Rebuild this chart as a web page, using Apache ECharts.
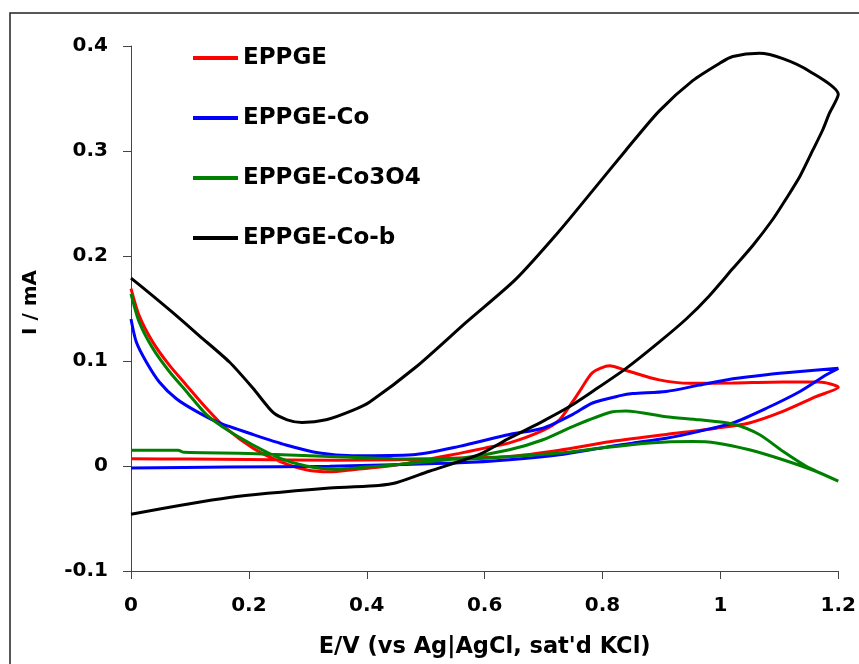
<!DOCTYPE html>
<html>
<head>
<meta charset="utf-8">
<script src="https://cdn.jsdelivr.net/npm/echarts@6/dist/echarts.min.js"></script>
<style>
html,body{margin:0;padding:0;background:#fff;}
#chart{width:859px;height:664px;}
</style>
</head>
<body>
<div id="chart"></div>
<script>
// Series names
const seriesNames = ['EPPGE', 'EPPGE-Co', 'EPPGE-Co3O4', 'EPPGE-Co-b'];
const seriesColors = ['#ff0000', '#0000ff', '#008000', '#000000'];

// Axis ticks
const xTicks = [0, 0.2, 0.4, 0.6, 0.8, 1, 1.2];
const yTicks = [-0.1, 0, 0.1, 0.2, 0.3, 0.4];

// [E (V), I (mA)] — forward scan then reverse scan
const eppge = [
  [0,0.169],[0.014,0.143],[0.037,0.118],[0.065,0.096],[0.094,0.077],[0.128,0.055],[0.161,0.036],
  [0.207,0.017],[0.252,0.0045],[0.297,-0.0035],[0.337,-0.0055],[0.376,-0.0035],[0.45,0.001],
  [0.5,0.006],[0.557,0.012],[0.6,0.017],[0.642,0.022],[0.699,0.034],[0.727,0.044],[0.749,0.061],
  [0.761,0.071],[0.783,0.089],[0.812,0.0955],[0.84,0.091],[0.896,0.082],[0.948,0.0787],
  [1.021,0.079],[1.106,0.080],[1.168,0.080],[1.2,0.075],
  [1.162,0.066],[1.106,0.052],[1.049,0.041],[0.993,0.036],[0.908,0.030],[0.812,0.023],
  [0.727,0.015],[0.642,0.009],[0.557,0.0076],[0.45,0.006],[0.35,0.0055],[0.2,0.0062],
  [0.1,0.0066],[0,0.007]
];
const eppgeCo = [
  [0,0.140],[0.009,0.118],[0.026,0.099],[0.048,0.080],[0.077,0.064],[0.111,0.052],[0.150,0.041],
  [0.207,0.030],[0.263,0.020],[0.320,0.0123],[0.376,0.0098],[0.478,0.0107],[0.557,0.0187],
  [0.642,0.030],[0.699,0.036],[0.749,0.049],[0.783,0.060],[0.83,0.067],[0.851,0.069],
  [0.908,0.071],[0.964,0.077],[1.021,0.083],[1.078,0.087],[1.135,0.090],[1.2,0.093],
  [1.179,0.0866],[1.135,0.071],[1.078,0.055],[1.021,0.041],[0.964,0.033],[0.908,0.0265],
  [0.851,0.0218],[0.795,0.017],[0.727,0.0107],[0.642,0.006],[0.557,0.003],[0.444,0.0013],
  [0.337,-0.0003],[0.167,-0.001],[0,-0.002]
];
const eppgeCo3O4 = [
  [0,0.164],[0.014,0.137],[0.037,0.112],[0.065,0.090],[0.094,0.071],[0.128,0.049],[0.167,0.033],
  [0.207,0.020],[0.252,0.0076],[0.297,0.000],[0.348,-0.003],[0.399,-0.001],[0.45,0.0013],
  [0.563,0.0076],[0.642,0.0155],[0.699,0.025],[0.755,0.039],[0.812,0.051],[0.840,0.0524],
  [0.908,0.047],[0.964,0.044],[1.021,0.040],[1.066,0.030],[1.106,0.014],[1.145,0.000],[1.2,-0.0145],
  [1.162,-0.005],[1.106,0.006],[1.049,0.0155],[0.993,0.022],[0.953,0.0234],[0.880,0.022],
  [0.795,0.017],[0.727,0.0123],[0.642,0.009],[0.557,0.0065],[0.444,0.007],[0.337,0.009],
  [0.2,0.012],[0.09,0.013],[0.08,0.015],[0,0.015]
];
const eppgeCoB = [
  [0,0.179],[0.037,0.162],[0.071,0.146],[0.116,0.124],[0.167,0.099],[0.207,0.074],[0.241,0.051],
  [0.265,0.044],[0.29,0.0415],[0.331,0.044],[0.376,0.053],[0.405,0.061],[0.484,0.0945],
  [0.569,0.137],[0.653,0.178],[0.727,0.224],[0.783,0.262],[0.840,0.301],[0.896,0.338],
  [0.953,0.367],[1.0,0.384],[1.021,0.390],[1.066,0.393],[1.106,0.388],[1.151,0.376],[1.2,0.354],
  [1.185,0.336],[1.1735,0.320],[1.157,0.301],[1.135,0.276],[1.111,0.254],[1.089,0.235],
  [1.055,0.210],[1.021,0.188],[0.981,0.162],[0.942,0.140],[0.896,0.118],[0.840,0.093],
  [0.783,0.071],[0.744,0.0566],[0.70,0.043],[0.642,0.0265],[0.591,0.011],[0.506,-0.005],
  [0.45,-0.016],[0.42,-0.0185],[0.337,-0.021],[0.167,-0.030],[0,-0.046]
];

const allData = [eppge, eppgeCo, eppgeCo3O4, eppgeCoB];

const FONT = 'DejaVu Sans';
const chart = echarts.init(document.getElementById('chart'), null, {renderer: 'canvas'});

const option = {
  backgroundColor: '#ffffff',
  animation: false,
  grid: {left: 131, top: 46, right: 20.5, bottom: 90.5, containLabel: false},
  legend: {
    orient: 'vertical',
    left: 193,
    top: 46,
    padding: 0,
    itemWidth: 45,
    itemHeight: 4,
    itemGap: 36,
    icon: 'rect',
    data: seriesNames,
    textStyle: {fontFamily: FONT, fontWeight: 'bold', fontSize: 23, color: '#000', lineHeight: 24}
  },
  xAxis: {
    type: 'value',
    min: xTicks[0],
    max: xTicks[xTicks.length - 1],
    interval: 0.2,
    name: 'E/V (vs Ag|AgCl, sat\'d KCl)',
    nameLocation: 'middle',
    nameGap: 65,
    nameTextStyle: {fontFamily: FONT, fontWeight: 'bold', fontSize: 22.5, color: '#000'},
    axisLine: {onZero: false, lineStyle: {color: '#444', width: 1}},
    axisTick: {show: true, inside: false, length: 8, lineStyle: {color: '#444'}},
    axisLabel: {
      margin: 25, fontFamily: FONT, fontWeight: 'bold', fontSize: 20, color: '#000',
      formatter: v => String(Math.round(v * 10) / 10)
    },
    splitLine: {show: false}
  },
  yAxis: {
    type: 'value',
    min: yTicks[0],
    max: yTicks[yTicks.length - 1],
    interval: 0.1,
    name: 'I / mA',
    nameLocation: 'middle',
    nameGap: 90,
    nameTextStyle: {fontFamily: FONT, fontWeight: 'bold', fontSize: 20, color: '#000', padding: [0, 0, 0, 12]},
    axisLine: {show: true, onZero: false, lineStyle: {color: '#444', width: 1}},
    axisTick: {show: true, inside: false, length: 8, lineStyle: {color: '#444'}},
    axisLabel: {
      margin: 23, fontFamily: FONT, fontWeight: 'bold', fontSize: 20, color: '#000',
      formatter: v => String(Math.round(v * 10) / 10)
    },
    splitLine: {show: false}
  },
  graphic: [{
    type: 'rect',
    shape: {x: 10, y: 13, width: 900, height: 700},
    style: {fill: 'none', stroke: '#222', lineWidth: 1.5},
    silent: true,
    z: -1
  }],
  series: seriesNames.map((n, i) => ({
    name: n,
    type: 'line',
    data: allData[i],
    symbol: 'none',
    smooth: 0.25,
    color: seriesColors[i],
    lineStyle: {color: seriesColors[i], width: 3}
  }))
};
chart.setOption(option);
</script>
</body>
</html>
